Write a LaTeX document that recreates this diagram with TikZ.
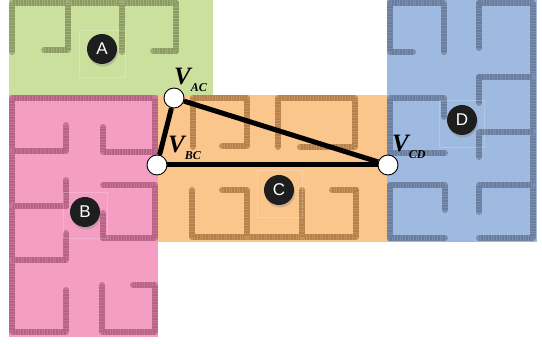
\documentclass[tikz,border=0pt]{standalone}
\usepackage{fontspec}
\setmainfont{Liberation Serif}
\newfontfamily\lsans{Liberation Sans}
\usetikzlibrary{shadows}
\definecolor{fillA}{RGB}{204,224,158}
\definecolor{fillB}{RGB}{243,158,194}
\definecolor{fillC}{RGB}{250,198,140}
\definecolor{fillD}{RGB}{158,186,224}
\definecolor{wallA}{RGB}{160,175,115}
\definecolor{wallAd}{RGB}{105,115,75}
\definecolor{wallB}{RGB}{200,115,150}
\definecolor{wallBd}{RGB}{145,70,100}
\definecolor{wallC}{RGB}{200,145,90}
\definecolor{wallCd}{RGB}{145,100,55}
\definecolor{wallD}{RGB}{122,142,175}
\definecolor{wallDd}{RGB}{80,95,125}
\definecolor{disc}{RGB}{30,30,30}
\newcommand\vsubscript[1]{\raisebox{-7pt}{\fontsize{12}{12}\selectfont #1}}
\tikzset{
  wall/.style={line width=6pt, line cap=round, line join=round, draw=#1,
    postaction={draw=#1d, draw opacity=0.35, line width=6pt, line cap=butt, dash pattern=on 0.6pt off 1pt}},
  edge/.style={line width=5pt, draw=black},
  vertex/.style={circle, fill=white, draw=black, line width=0.9pt, minimum size=20pt, inner sep=0pt},
  vlab/.style={inner sep=0pt, anchor=base west, font=\fontsize{25}{25}\selectfont\bfseries\itshape},
  badge/.style={circle, fill=disc, text=white, minimum size=30pt, inner sep=0pt,
    font=\lsans\fontsize{17}{17}\selectfont,
    drop shadow={shadow xshift=1pt, shadow yshift=-2.5pt, opacity=0.35}},
  faint/.style={draw=white, opacity=0.2, line width=0.6pt}
}
\begin{document}
\begin{tikzpicture}[x=1pt,y=-1pt]
\useasboundingbox (0,0) rectangle (542,344);
% regions
\fill[fillA] (9,0) rectangle (213,95);
\fill[fillB] (9,95) rectangle (158,337);
\fill[fillC] (158,95) rectangle (387,242);
\fill[fillD] (387,0) rectangle (537,242);
% walls A
\draw[wall=wallA] (12,52)--(12,3)--(176,3)--(176,51)--(153,51);
\draw[wall=wallA] (68,3)--(68,50)--(44,50);
\draw[wall=wallA] (122,3)--(122,52);
% walls B
\draw[wall=wallB] (155,98)--(12,98)--(12,332)--(66,332)--(66,290);
\draw[wall=wallB] (103,127)--(103,152)--(155,152)--(155,98);
\draw[wall=wallB] (12,151)--(66,151)--(66,125);
\draw[wall=wallB] (103,185)--(155,185)--(155,238)--(103,238)--(103,213);
\draw[wall=wallB] (66,180)--(66,206)--(12,206);
\draw[wall=wallB] (66,233)--(66,260)--(12,260);
\draw[wall=wallB] (102,285)--(102,332)--(155,332)--(155,285)--(133,285);
% walls C
\draw[wall=wallC] (193,147)--(193,98)--(247,98)--(247,146)--(222,146);
\draw[wall=wallC] (278,147)--(278,98)--(355,98)--(355,147)--(300,147);
\draw[wall=wallC] (192,190)--(192,237)--(356,237)--(356,190)--(332,190);
\draw[wall=wallC] (222,190)--(247,190)--(247,237);
\draw[wall=wallC] (302,190)--(302,237);
% walls D
\draw[wall=wallD] (413,52)--(390,52)--(390,3)--(444,3)--(444,52);
\draw[wall=wallD] (479,48)--(479,3)--(533,3)--(533,238)--(479,238);
\draw[wall=wallD] (479,103)--(479,77)--(533,77);
\draw[wall=wallD] (479,157)--(479,132)--(533,132);
\draw[wall=wallD] (479,212)--(479,185)--(533,185);
\draw[wall=wallD] (444,117)--(444,98)--(390,98)--(390,153)--(445,153);
\draw[wall=wallD] (445,210)--(445,185)--(390,185)--(390,238)--(445,238);
% faint squares
\draw[faint] (79,30) rectangle (125,77);
\draw[faint] (63,192) rectangle (107,238);
\draw[faint] (257,170) rectangle (302,217);
\draw[faint] (439,100) rectangle (484,147);
% badges
\node[badge] (A) at (102,49) {A};
\node[badge] (B) at (85,212) {B};
\node[badge] (C) at (279,190) {C};
\node[badge] (D) at (462,120) {D};
% vertices
\node[vertex] (vAC) at (174,98) {};
\node[vertex] (vBC) at (157,165) {};
\node[vertex] (vCD) at (388,165) {};
\draw[edge] (vAC) -- (vBC);
\draw[edge] (vBC) -- (vCD);
\draw[edge] (vAC) -- (vCD);
% labels
\node[vlab] (lAC) at (174,85) {V\vsubscript{AC}};
\node[vlab] (lBC) at (168,153) {V\vsubscript{BC}};
\node[vlab] (lCD) at (392,152) {V\vsubscript{CD}};
\end{tikzpicture}
\end{document}
